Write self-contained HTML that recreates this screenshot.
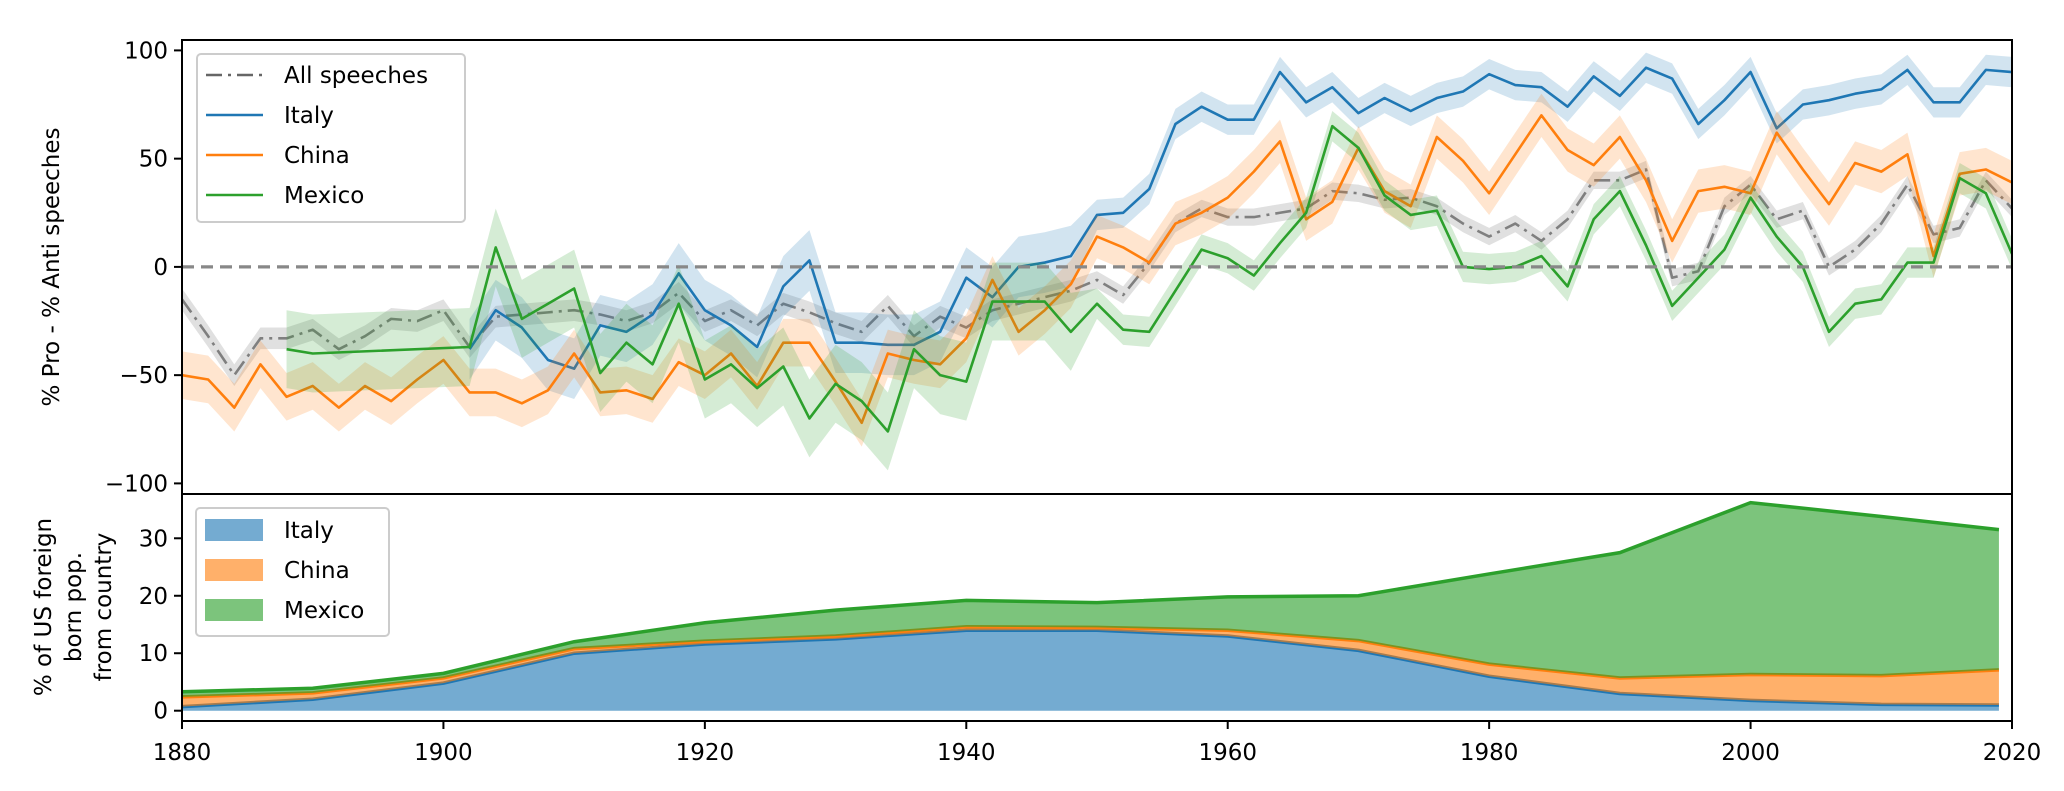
<!DOCTYPE html>
<html><head><meta charset="utf-8"><style>
body{margin:0;background:#fff}
svg text{font-family:"DejaVu Sans","Liberation Sans",sans-serif;fill:#000}
</style></head><body>
<svg id="chart" width="2064" height="786" xmlns="http://www.w3.org/2000/svg"></svg>
<script>
const years=[];for(let y=1880;y<=2020;y+=2)years.push(y);
const allVals=[-15,-32,-50,-33,-33,-29,-38,-32,-24,-25,-20,-37,-23,-22,-21,-20,-22,-25,-21,-12,-25,-20,-27,-17,-21,-26,-30,-18,-32,-23,-28,-20,-17,-14,-11,-6,-13,2,20,27,23,23,25,27,35,34,31,32,28,20,14,20,12,22,40,40,45,-5,-2,28,38,22,26,0,8,20,38,15,18,40,27];
const italyYears=years.filter(y=>y>=1902);
const italyVals=[-38,-20,-28,-43,-47,-27,-30,-22,-3,-20,-27,-37,-9,3,-35,-35,-36,-36,-30,-5,-14,0,2,5,24,25,36,66,74,68,68,90,76,83,71,78,72,78,81,89,84,83,74,88,79,92,87,66,77,90,64,75,77,80,82,91,76,76,91,90];
const chinaVals=[-50,-52,-65,-45,-60,-55,-65,-55,-62,-52,-43,-58,-58,-63,-57,-40,-58,-57,-61,-44,-50,-40,-55,-35,-35,-53,-72,-40,-43,-45,-33,-6,-30,-20,-8,14,9,2,20,25,32,44,58,22,30,55,35,28,60,49,34,52,70,54,47,60,40,12,35,37,34,62,45,29,48,44,52,5,43,45,39];
const mexicoYears=[1888,1890,1902].concat(years.filter(y=>y>=1904));
const mexicoVals=[-38,-40,-37,9,-24,-17,-10,-49,-35,-45,-17,-52,-45,-56,-46,-70,-54,-62,-76,-38,-50,-53,-16,-16,-16,-30,-17,-29,-30,-11,8,4,-4,11,25,65,55,33,24,26,0,-1,0,5,-9,22,35,10,-18,-5,8,32,14,0,-30,-17,-15,2,2,41,34,6];
const bandAll=[5,4];const bandItaly=[14,7];const bandChina=[11,10];const bandMexico=[18,7];
const popYears=[1880,1890,1900,1910,1920,1930,1940,1950,1960,1970,1980,1990,2000,2010,2019];
const popItaly=[0.7,2,4.8,10,11.6,12.5,14,14,13,10.5,6,3,1.8,1.1,1.0];
const popChina=[1.7,1.1,0.9,0.8,0.5,0.5,0.6,0.5,1.0,1.7,2.1,2.7,4.5,5.0,6.1];
const popMexico=[0.9,0.8,0.8,1.2,3.2,4.5,4.6,4.3,5.8,7.8,15.7,21.8,29.9,27.7,24.4];
const xTicks=[1880,1900,1920,1940,1960,1980,2000,2020];
const yTicksTop=[-100,-50,0,50,100];const yTicksBot=[0,10,20,30];

const NS="http://www.w3.org/2000/svg",svg=document.getElementById('chart');
const L=182,R=2012,T1=40,B1=494,T2=494,B2=721;
const X=y=>L+(y-1880)*(R-L)/140;
const Y1=v=>266.9-2.165*v;
const Y2=v=>710.7-5.747*v;
function el(t,a,p){const e=document.createElementNS(NS,t);for(const k in a)e.setAttribute(k,a[k]);(p||svg).appendChild(e);return e;}
const defs=el('defs',{});
const c1=el('clipPath',{id:'c1'},defs);el('rect',{x:L,y:T1,width:R-L,height:B1-T1},c1);
const c2=el('clipPath',{id:'c2'},defs);el('rect',{x:L,y:T2,width:R-L,height:B2-T2},c2);
const g1=el('g',{'clip-path':'url(#c1)'});


function series(xs,vs,band,color,name,dash){
  const b=xs.map(y=>y<1950?band[0]:band[1]);
  let up=xs.map((y,i)=>X(y)+','+Y1(vs[i]+b[i])),lo=xs.map((y,i)=>X(y)+','+Y1(vs[i]-b[i])).reverse();
  const p=el('polygon',{points:up.concat(lo).join(' '),fill:color,'fill-opacity':0.2},g1);
  
  
  const a={points:xs.map((y,i)=>X(y)+','+Y1(vs[i])).join(' '),fill:'none',stroke:color,'stroke-width':2.6,'stroke-linejoin':'round'};
  if(dash){a['stroke-dasharray']=dash;a['stroke-opacity']=0.8;}
  const l=el('polyline',a,g1);
  
  
}
series(years,allVals,bandAll,'#666','all-speeches','16,6,3,6');
series(italyYears,italyVals,bandItaly,'#1f77b4','italy');
series(years,chinaVals,bandChina,'#ff7f0e','china');
series(mexicoYears,mexicoVals,bandMexico,'#2ca02c','mexico');
const z=el('line',{x1:L,x2:R,y1:Y1(0),y2:Y1(0),stroke:'#888','stroke-width':3.2,'stroke-dasharray':'12,7'});


const g2=el('g',{'clip-path':'url(#c2)'});


let base=popYears.map(()=>0);
[[popItaly,'#1f77b4','italy'],[popChina,'#ff7f0e','china'],[popMexico,'#2ca02c','mexico']].forEach(([v,c,n])=>{
  const top=base.map((b,i)=>b+v[i]);
  const pts=popYears.map((y,i)=>X(y)+','+Y2(top[i])).concat(popYears.map((y,i)=>X(y)+','+Y2(base[i])).reverse());
  const a=el('polygon',{points:pts.join(' '),fill:c,'fill-opacity':0.62},g2);
  
  
  const l=el('polyline',{points:popYears.map((y,i)=>X(y)+','+Y2(top[i])).join(' '),fill:'none',stroke:c,'stroke-width':3.5},g2);
  
  
  base=top;
});
el('rect',{x:L,y:T1,width:R-L,height:B1-T1,fill:'none',stroke:'#000','stroke-width':2});
el('rect',{x:L,y:T2,width:R-L,height:B2-T2,fill:'none',stroke:'#000','stroke-width':2});
yTicksTop.forEach(v=>{el('line',{x1:L-8,x2:L,y1:Y1(v),y2:Y1(v),stroke:'#000','stroke-width':2});
  const t=el('text',{x:L-14,y:Y1(v)+8,'text-anchor':'end','font-size':23});t.textContent=v<0?'\u2212'+(-v):v;
  
  });
yTicksBot.forEach(v=>{el('line',{x1:L-8,x2:L,y1:Y2(v),y2:Y2(v),stroke:'#000','stroke-width':2});
  const t=el('text',{x:L-14,y:Y2(v)+8,'text-anchor':'end','font-size':23});t.textContent=v;
  
  });
xTicks.forEach(v=>{el('line',{x1:X(v),x2:X(v),y1:B2,y2:B2+8,stroke:'#000','stroke-width':2});
  const t=el('text',{x:X(v),y:760,'text-anchor':'middle','font-size':23});t.textContent=v;
  
  });
function txt(s,x,y,rot,name){const t=el('text',{x:x,y:y,'text-anchor':'middle','font-size':23,transform:'rotate(-90 '+x+' '+y+')'});t.textContent=s;
  
  }
txt('% Pro - % Anti speeches',59,267,0,'y-axis-title-top');
txt('% of US foreign',51,607,0,'y-axis-title-bottom');
txt('born pop.',81,607,0,'y-axis-title-bottom');
txt('from country',111,607,0,'y-axis-title-bottom');
const lg1=el('g',{});


el('rect',{x:197,y:54,width:268,height:168,rx:4,fill:'#fff','fill-opacity':0.85,stroke:'#ccc','stroke-width':2},lg1);
[['All speeches','#666','16,6,3,6'],['Italy','#1f77b4'],['China','#ff7f0e'],['Mexico','#2ca02c']].forEach((e,i)=>{
  const y=75+i*40;const a={x1:206,x2:263,y1:y,y2:y,stroke:e[1],'stroke-width':2.6};if(e[2])a['stroke-dasharray']=e[2];
  el('line',a,lg1);const t=el('text',{x:284,y:y+8,'font-size':23},lg1);t.textContent=e[0];
  
  });
const lg2=el('g',{});


el('rect',{x:196,y:508,width:193,height:128,rx:4,fill:'#fff','fill-opacity':0.85,stroke:'#ccc','stroke-width':2},lg2);
[['Italy','#1f77b4'],['China','#ff7f0e'],['Mexico','#2ca02c']].forEach((e,i)=>{
  const y=530+i*40;el('rect',{x:205,y:y-11,width:58,height:22,fill:e[1],'fill-opacity':0.62},lg2);
  const t=el('text',{x:284,y:y+8,'font-size':23},lg2);t.textContent=e[0];
  
  });
</script>
</body></html>
